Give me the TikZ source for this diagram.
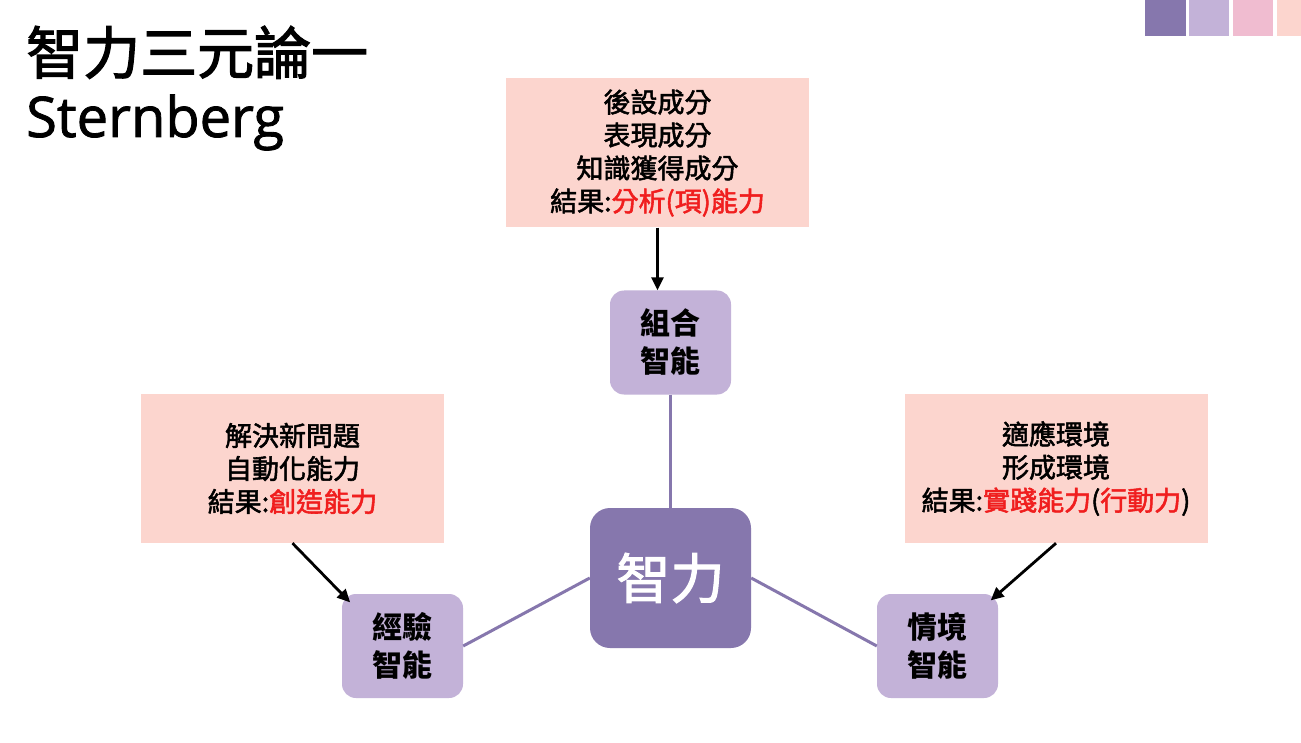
\documentclass[tikz,border=0pt]{standalone}
\usepackage{fontspec}
\setmainfont{Noto Sans CJK TC}
\newfontfamily\medfont{Noto Sans CJK TC}[FakeBold=2]
\newfontfamily\latinfont{Open Sans}[FakeBold=1.5]
\usetikzlibrary{arrows.meta, positioning}
\definecolor{deeppurple}{HTML}{8677AD}
\definecolor{lilac}{HTML}{C3B2D8}
\definecolor{rosepink}{HTML}{F0BCD0}
\definecolor{salmon}{HTML}{FCD5CE}
\definecolor{hilite}{HTML}{F01E1E}
\newcommand\redtxt[1]{\textcolor{hilite}{#1}}

\begin{document}
\begin{tikzpicture}[x=1pt, y=-1pt,
  note/.style={rectangle, fill=salmon, minimum width=303pt, minimum height=149pt, align=center, inner sep=0pt, font=\fontsize{27}{33}\medfont},
  facet/.style={rectangle, fill=lilac, rounded corners=14pt, minimum width=121pt, minimum height=104pt, align=center, inner sep=0pt, font=\fontsize{30}{38}\selectfont\bfseries},
  core/.style={rectangle, fill=deeppurple, rounded corners=20pt, minimum width=161pt, minimum height=140pt, inner sep=0pt, text=white, font=\fontsize{54}{60}\medfont},
  link/.style={draw=deeppurple, line width=3pt},
  feed/.style={-{Triangle[length=13pt,width=12pt]}, line width=2.8pt}
]
\useasboundingbox[fill=white] (0,0) rectangle (1301,743);

% corner swatches
\fill[deeppurple] (1145,0) rectangle (1186,36);
\fill[lilac] (1189,0) rectangle (1229,36);
\fill[rosepink] (1233,0) rectangle (1273,36);
\fill[salmon] (1277,0) rectangle (1301,36);

% title
\node[anchor=base west, inner sep=0pt, font=\fontsize{57}{60}\medfont] (title) at (26,74) {智力三元論一};
\node[anchor=base west, inner sep=0pt, font=\fontsize{56}{60}\latinfont] (author) at (26,137) {Sternberg};

\node[core] (iq) at (670.5,578) {智力};

\node[facet] (comb) at (670.5,342.5) {組合\\智能};
\node[facet] (exper) at (402.5,646) {經驗\\智能};
\node[facet] (situ) at (937.5,646) {情境\\智能};

\node[note] (anal) at (657.5,153) {後設成分\\表現成分\\知識獲得成分\\結果:\redtxt{分析(項)能力}};
\node[note] (creat) at (292.5,468.5) {解決新問題\\自動化能力\\結果:\redtxt{創造能力}};
\node[note] (pract) at (1056,468.5) {適應環境\\形成環境\\結果:\redtxt{實踐能力}(\redtxt{行動力})};

\draw[link] (comb) -- (iq);
\draw[link] (exper.east) -- (iq.west);
\draw[link] (iq.east) -- (situ.west);

\draw[feed] (anal.south) -- (anal.south |- comb.north);
\draw[feed, shorten >=-12pt] (creat.south) -- (exper.north west);
\draw[feed, shorten >=-10pt] (pract.south) -- (situ.north east);
\end{tikzpicture}
\end{document}
